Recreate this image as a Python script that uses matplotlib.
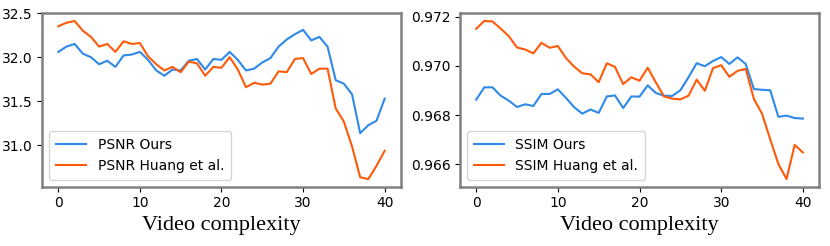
import numpy as np
import matplotlib
matplotlib.use('Agg')
import matplotlib.pyplot as plt

x = np.arange(41)

psnr_ours = [32.06, 32.12, 32.15, 32.04, 32.00, 31.92, 31.96, 31.89, 32.02, 32.03,
             32.06, 31.97, 31.85, 31.79, 31.86, 31.85, 31.96, 31.98, 31.86, 31.98,
             31.97, 32.06, 31.97, 31.85, 31.87, 31.94, 31.99, 32.12, 32.20, 32.26,
             32.31, 32.19, 32.23, 32.12, 31.74, 31.70, 31.58, 31.14, 31.23, 31.28,
             31.53]
psnr_huang = [32.35, 32.39, 32.41, 32.30, 32.23, 32.12, 32.15, 32.06, 32.18, 32.15,
              32.16, 32.01, 31.92, 31.85, 31.89, 31.83, 31.95, 31.93, 31.79, 31.89,
              31.88, 32.00, 31.86, 31.66, 31.71, 31.69, 31.70, 31.84, 31.83, 31.98,
              31.99, 31.81, 31.87, 31.87, 31.42, 31.27, 30.99, 30.64, 30.62, 30.77,
              30.94]

ssim_ours = [0.96863, 0.96913, 0.96913, 0.96879, 0.96859, 0.96833, 0.96844, 0.96837, 0.96886, 0.96886,
             0.96905, 0.96870, 0.96832, 0.96806, 0.96823, 0.96809, 0.96876, 0.96880, 0.96829, 0.96876,
             0.96875, 0.96921, 0.96890, 0.96879, 0.96878, 0.96901, 0.96954, 0.97011, 0.96999, 0.97020,
             0.97036, 0.97008, 0.97035, 0.97008, 0.96906, 0.96903, 0.96901, 0.96793, 0.96798, 0.96788,
             0.96786]
ssim_huang = [0.97151, 0.97183, 0.97181, 0.97152, 0.97121, 0.97075, 0.97067, 0.97051, 0.97094, 0.97074,
              0.97081, 0.97032, 0.96997, 0.96970, 0.96966, 0.96934, 0.97011, 0.96996, 0.96926, 0.96954,
              0.96940, 0.96993, 0.96933, 0.96876, 0.96867, 0.96864, 0.96879, 0.96944, 0.96899, 0.96991,
              0.97003, 0.96956, 0.96980, 0.96988, 0.96866, 0.96806, 0.96702, 0.96601, 0.96540, 0.96679,
              0.96648]

blue = '#2e89ea'
orange = '#ff5a0a'

plt.rcParams['font.family'] = 'DejaVu Sans'
plt.rcParams['font.size'] = 10

fig = plt.figure(figsize=(8.3, 2.46), dpi=100)
ax1 = fig.add_axes([0.0506, 0.240, 0.4325, 0.707])
ax2 = fig.add_axes([0.554, 0.240, 0.433, 0.707])

panels = [(ax1, psnr_ours, psnr_huang, 'PSNR'), (ax2, ssim_ours, ssim_huang, 'SSIM')]
for ax, ours, huang, name in panels:
    ax.plot(x, ours, color=blue, lw=1.5, label=name + ' Ours')
    ax.plot(x, huang, color=orange, lw=1.5, label=name + ' Huang et al.')
    ax.set_xticks([0, 10, 20, 30, 40])
    ax.set_xlabel('Video complexity', family='Liberation Serif', fontsize=16, labelpad=4)
    for s in ax.spines.values():
        s.set_color('#808080')
        s.set_linewidth(1.8)
    ax.tick_params(length=3.5, width=0.8, pad=3)
    ax.legend(loc='lower left', fontsize=10, handlelength=2.2, borderpad=0.5)

ax1.set_yticks([31.0, 31.5, 32.0, 32.5])
ax2.set_yticks([0.966, 0.968, 0.970, 0.972])

fig.savefig('out.png', dpi=100)
